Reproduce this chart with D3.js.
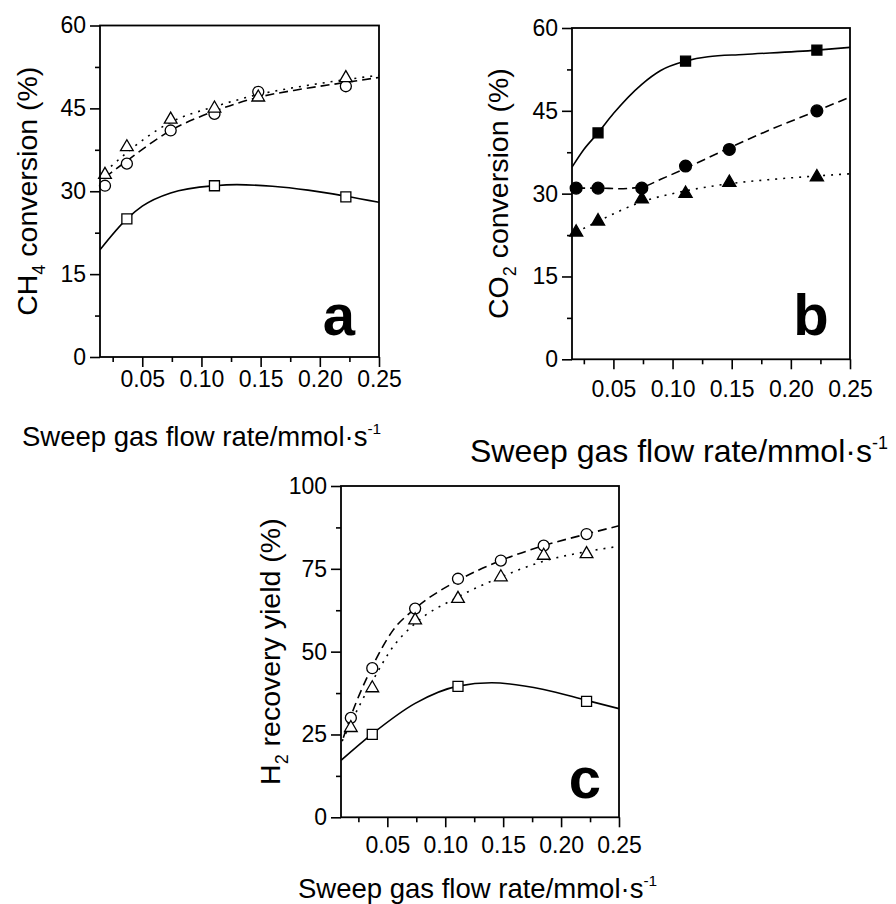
<!DOCTYPE html>
<html>
<head>
<meta charset="utf-8">
<script src="https://cdn.jsdelivr.net/npm/d3@7"></script>
<style>
  body { margin: 0; background: #fff; }
  svg { display: block; font-family: Arial, "Liberation Sans", sans-serif; }
</style>
</head>
<body>
<svg id="chart" width="896" height="904"></svg>
<script>
// measured points (sweep gas flow rate, mmol/s)
const flowX = [0.0185, 0.037, 0.074, 0.111, 0.148, 0.222];
const flowXc = [0.0185, 0.037, 0.074, 0.111, 0.148, 0.185, 0.222];
const squareX = [0.037, 0.111, 0.222];

// panel a: CH4 conversion
const ch4Square = [25, 31, 29];
const ch4Circle = [31, 35, 41, 44, 48, 49];
const ch4Triangle = [33, 38, 43, 45, 47, 50.5];

// panel b: CO2 conversion
const co2Square = [41, 54, 56];
const co2Circle = [31, 31, 31, 35, 38, 45];
const co2Triangle = [23, 25, 29, 30, 32, 33];

// panel c: H2 recovery yield
const h2Square = [25, 39.5, 35];
const h2Circle = [30, 45, 63, 72, 77.5, 82, 85.5];
const h2Triangle = [27, 39, 59.5, 66, 72.5, 79, 79.5];

// fitted curves
const ch4SolidX = [0.0143, 0.037, 0.05, 0.074, 0.111, 0.13, 0.16, 0.19, 0.222, 0.25];
const ch4SolidY = [19.4, 25, 27.3, 29.7, 31, 31.2, 30.9, 30.2, 29.1, 28.0];
const ch4DashX = [0.0185, 0.037, 0.074, 0.111, 0.148, 0.185, 0.222, 0.25];
const ch4DashY = [32.5, 35.5, 41, 44.5, 47, 48.5, 49.7, 50.6];
const ch4DotX = [0.0185, 0.037, 0.074, 0.111, 0.148, 0.185, 0.222, 0.25];
const ch4DotY = [33.5, 37, 42.5, 45.3, 47.5, 49, 50.2, 51.0];

const co2SolidX = [0.015, 0.025, 0.037, 0.05, 0.074, 0.09, 0.111, 0.13, 0.16, 0.222, 0.25];
const co2SolidY = [34.8, 38, 41, 44.5, 49.8, 52.3, 54, 54.8, 55.2, 56, 56.5];
const co2DashX = [0.0185, 0.037, 0.055, 0.074, 0.09, 0.111, 0.148, 0.185, 0.222, 0.25];
const co2DashY = [31, 31, 30.9, 31.2, 32.6, 34.6, 38.3, 41.8, 45, 47.5];
const co2DotX = [0.0185, 0.037, 0.074, 0.111, 0.148, 0.185, 0.222, 0.25];
const co2DotY = [23, 25, 28.5, 30.5, 31.8, 32.6, 33.2, 33.6];

const h2SolidX = [0.01, 0.037, 0.074, 0.111, 0.14, 0.185, 0.222, 0.25];
const h2SolidY = [17.2, 25.2, 34.4, 39.6, 40.6, 38.6, 35.3, 32.8];
const h2DashX = [0.012, 0.0185, 0.037, 0.055, 0.074, 0.111, 0.148, 0.185, 0.222, 0.25];
const h2DashY = [24, 30.5, 45.5, 56.5, 63, 71.5, 77.5, 82, 85.5, 88];
const h2DotX = [0.011, 0.0185, 0.037, 0.055, 0.074, 0.111, 0.148, 0.185, 0.222, 0.25];
const h2DotY = [23, 28.5, 41, 51.5, 58.5, 66.5, 72.5, 77.3, 80.2, 81.8];

const xMajor = [0.05, 0.10, 0.15, 0.20, 0.25];
const xMinor = [0.025, 0.075, 0.125, 0.175, 0.225];

const svg = d3.select("#chart");
const zip = (xs, ys) => xs.map((x, i) => [x, ys[i]]);

function drawPanel(p) {
    const g = svg.append("g");
    const x = d3.scaleLinear().domain(p.xDomain).range([p.left, p.right]);
    const y = d3.scaleLinear().domain(p.yDomain).range([p.bottom, p.top]);

    const clipId = "clip-" + p.name;
    g.append("clipPath").attr("id", clipId)
        .append("rect")
        .attr("x", p.left).attr("y", p.top)
        .attr("width", p.right - p.left).attr("height", p.bottom - p.top);

    // fitted lines
    const line = d3.line().x(d => x(d[0])).y(d => y(d[1])).curve(d3.curveMonotoneX);
    const plot = g.append("g").attr("clip-path", `url(#${clipId})`);
    p.curves.forEach(c => {
        plot.append("path")
            .attr("d", line(c.pts))
            .attr("fill", "none")
            .attr("stroke", "#000")
            .attr("stroke-width", 1.6)
            .attr("stroke-dasharray", c.dash);
    });

    // markers
    p.markers.forEach(m => {
        const sym = d3.symbol().type(m.type).size(m.size);
        g.append("g").selectAll("path")
            .data(m.pts)
            .join("path")
            .attr("d", sym)
            .attr("transform", d => `translate(${x(d[0])},${y(d[1])})`)
            .attr("fill", m.fill)
            .attr("stroke", "#000")
            .attr("stroke-width", 1.3);
    });

    // axes
    const yMajor = d3.range(p.yDomain[0], p.yDomain[1] + 0.01, p.yStep);
    const yMinor = d3.range(p.yDomain[0] + p.yStep / 2, p.yDomain[1], p.yStep);

    const axisStyle = sel => {
        sel.select(".domain").remove();
        sel.selectAll("line").attr("stroke", "#000").attr("stroke-width", 1.6);
        sel.selectAll("text").attr("fill", "#000").style("font-size", "23px");
    };

    g.append("g").attr("transform", `translate(${p.left},0)`)
        .call(d3.axisLeft(y).tickValues(yMajor).tickSize(10).tickPadding(4).tickFormat(d3.format("d")))
        .call(axisStyle);
    g.append("g").attr("transform", `translate(${p.left},0)`)
        .call(d3.axisLeft(y).tickValues(yMinor).tickSize(5).tickFormat(""))
        .call(axisStyle);
    g.append("g").attr("transform", `translate(0,${p.bottom})`)
        .call(d3.axisBottom(x).tickValues(xMajor).tickSize(10).tickPadding(p.xPad).tickFormat(d3.format(".2f")))
        .call(axisStyle);
    g.append("g").attr("transform", `translate(0,${p.bottom})`)
        .call(d3.axisBottom(x).tickValues(xMinor).tickSize(5).tickFormat(""))
        .call(axisStyle);

    // frame
    g.append("rect")
        .attr("x", p.left).attr("y", p.top)
        .attr("width", p.right - p.left).attr("height", p.bottom - p.top)
        .attr("fill", "none").attr("stroke", "#000").attr("stroke-width", 1.8);

    // y title
    const yt = g.append("text")
        .attr("transform", `translate(${p.yTitleX},${(p.top + p.bottom) / 2}) rotate(-90)`)
        .attr("text-anchor", "middle")
        .style("font-size", "28.5px");
    yt.append("tspan").text(p.yTitle[0]);
    yt.append("tspan").attr("dy", 8).style("font-size", "18px").text(p.yTitle[1]);
    yt.append("tspan").attr("dy", -8).text(p.yTitle[2]);

    // x title
    const xt = g.append("text")
        .attr("x", p.xTitleX).attr("y", p.xTitleY)
        .style("font-size", p.xTitleSize + "px");
    xt.append("tspan").text("Sweep gas flow rate/mmol\u00b7s");
    xt.append("tspan").attr("dy", -p.xTitleSize * 0.42)
        .style("font-size", (p.xTitleSize * 0.56) + "px").text("-1");

    // panel letter
    g.append("text")
        .attr("x", p.letterX).attr("y", p.letterY)
        .attr("text-anchor", "middle")
        .style("font-size", "58px").style("font-weight", "bold")
        .text(p.name);
}

drawPanel({
    name: "a", left: 100, right: 379, top: 25.5, bottom: 357,
    xDomain: [0.0143, 0.25], yDomain: [0, 60], yStep: 15, xPad: 4,
    yTitle: ["CH", "4", " conversion (%)"], yTitleX: 37,
    xTitleX: 22, xTitleY: 446, xTitleSize: 27.5,
    letterX: 339, letterY: 335,
    curves: [
        { pts: zip(ch4SolidX, ch4SolidY), dash: null },
        { pts: zip(ch4DashX, ch4DashY), dash: "9,5" },
        { pts: zip(ch4DotX, ch4DotY), dash: "2,6" }
    ],
    markers: [
        { type: d3.symbolSquare, size: 100, fill: "#fff", pts: zip(squareX, ch4Square) },
        { type: d3.symbolCircle, size: 95, fill: "#fff", pts: zip(flowX, ch4Circle) },
        { type: d3.symbolTriangle, size: 70, fill: "#fff", pts: zip(flowX, ch4Triangle) }
    ]
});

drawPanel({
    name: "b", left: 572, right: 850, top: 28, bottom: 359.3,
    xDomain: [0.015, 0.25], yDomain: [0, 60], yStep: 15, xPad: 11,
    yTitle: ["CO", "2", " conversion (%)"], yTitleX: 508,
    xTitleX: 470, xTitleY: 462, xTitleSize: 32,
    letterX: 811, letterY: 335,
    curves: [
        { pts: zip(co2SolidX, co2SolidY), dash: null },
        { pts: zip(co2DashX, co2DashY), dash: "9,5" },
        { pts: zip(co2DotX, co2DotY), dash: "2,6" }
    ],
    markers: [
        { type: d3.symbolSquare, size: 100, fill: "#000", pts: zip(squareX, co2Square) },
        { type: d3.symbolCircle, size: 110, fill: "#000", pts: zip(flowX, co2Circle) },
        { type: d3.symbolTriangle, size: 75, fill: "#000", pts: zip(flowX, co2Triangle) }
    ]
});

drawPanel({
    name: "c", left: 341, right: 619, top: 486, bottom: 817.3,
    xDomain: [0.01, 0.25], yDomain: [0, 100], yStep: 25, xPad: 9,
    yTitle: ["H", "2", " recovery yield (%)"], yTitleX: 280,
    xTitleX: 298, xTitleY: 898, xTitleSize: 27.5,
    letterX: 585, letterY: 798,
    curves: [
        { pts: zip(h2SolidX, h2SolidY), dash: null },
        { pts: zip(h2DashX, h2DashY), dash: "9,5" },
        { pts: zip(h2DotX, h2DotY), dash: "2,6" }
    ],
    markers: [
        { type: d3.symbolSquare, size: 100, fill: "#fff", pts: zip(squareX, h2Square) },
        { type: d3.symbolCircle, size: 95, fill: "#fff", pts: zip(flowXc, h2Circle) },
        { type: d3.symbolTriangle, size: 70, fill: "#fff", pts: zip(flowXc, h2Triangle) }
    ]
});
</script>
</body>
</html>
